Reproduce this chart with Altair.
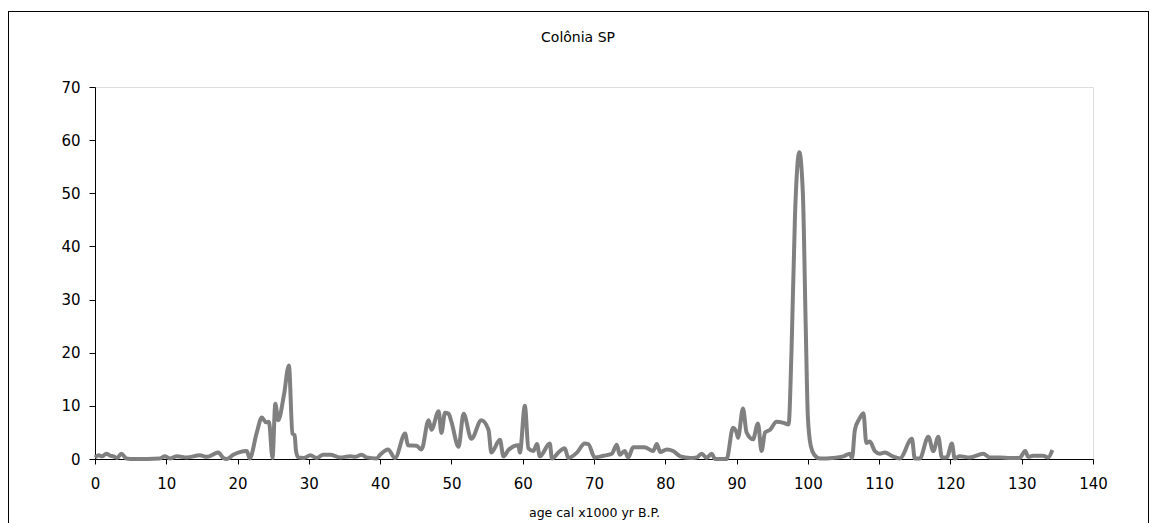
import altair as alt
import pandas as pd

ages = [0, 0.5, 1.0, 1.6, 2.2, 2.6, 3.1, 3.7, 4.4, 5.5, 9.1, 9.8, 10.5, 11.5, 12.9, 14.7, 15.7,
        17.3, 18.0, 18.5, 19.4, 20.3, 21.3, 21.7, 22.7, 23.4, 24.0, 24.4, 24.9, 25.3, 25.7, 26.5,
        27.2, 27.7, 28.0, 28.2, 28.5, 29.3, 30.2, 31.1, 32.0, 33.0, 34.4, 35.8, 36.5, 37.4, 38.1,
        39.5, 40.0, 41.1, 42.1, 43.5, 43.9, 45.1, 45.8, 46.8, 47.2, 48.2, 48.6, 49.1, 49.6, 50.0,
        51.0, 51.7, 52.8, 54.2, 55.2, 55.6, 56.8, 57.3, 58.0, 59.4, 59.6, 60.3, 60.8, 61.5, 62.0,
        62.4, 63.8, 64.1, 65.2, 65.9, 66.4, 67.6, 68.7, 69.2, 70.1, 71.3, 72.5, 73.2, 73.6, 74.3,
        74.8, 75.5, 77.1, 78.3, 78.8, 79.3, 80.2, 81.1, 82.1, 83.5, 84.4, 85.1, 85.8, 86.5, 87.0,
        88.6, 89.5, 90.0, 90.2, 90.9, 91.4, 92.3, 93.0, 93.5, 94.0, 94.7, 95.6, 96.6, 97.3, 97.7,
        98.2, 98.8, 99.3, 99.7, 100.0, 100.4, 100.9, 101.7, 103.5, 105.0, 105.9, 106.2, 106.6,
        107.2, 107.8, 108.2, 108.7, 109.4, 110.1, 110.8, 111.9, 112.9, 114.6, 115.0, 115.7, 116.9,
        117.6, 118.3, 118.8, 119.5, 120.2, 120.6, 121.3, 122.7, 124.6, 125.5, 127.0, 128.3, 129.7,
        130.5, 130.9, 131.6, 133.0, 133.7, 134.3]
values = [0.3, 0.7, 0.5, 1.0, 0.6, 0.5, 0.2, 1.0, 0.1, 0, 0.1, 0.5, 0.1, 0.5, 0.3, 0.7, 0.4,
          1.2, 0.2, 0, 0.8, 1.3, 1.5, 0.1, 5.0, 7.8, 6.9, 7.0, 0.2, 10.4, 7.3, 12.0,
          17.6, 4.8, 4.5, 1.5, 0.3, 0.2, 0.7, 0.2, 0.8, 0.8, 0.3, 0.5, 0.4, 0.8, 0.3,
          0.1, 0.8, 1.8, 0.2, 4.8, 2.6, 2.5, 1.8, 7.3, 5.5, 9.0, 4.9, 8.7, 8.5, 7.0,
          2.3, 8.5, 3.8, 7.3, 5.5, 1.2, 3.6, 0.5, 1.7, 2.6, 1.2, 10.0, 2.0, 1.5, 2.8,
          0.5, 2.9, 0.1, 1.5, 2.0, 0.2, 1.2, 2.9, 2.8, 0.3, 0.6, 1.0, 2.7, 0.8, 1.5,
          0.3, 2.2, 2.2, 1.5, 2.8, 1.3, 1.8, 1.5, 0.5, 0.2, 0.3, 1.0, 0.2, 1.0, 0,
          0, 5.9, 5.0, 4.0, 9.5, 5.0, 3.7, 6.7, 1.5, 5.0, 5.5, 7.0, 6.8, 6.5, 20.0,
          46.0, 57.7, 50.0, 25.0, 8.0, 2.5, 0.8, 0.1, 0.2, 0.5, 1.0, 0.2, 5.5,
          7.5, 8.6, 3.0, 3.3, 1.5, 1.0, 1.2, 0.5, 0.1, 3.8, 0.1, 0.1, 4.2,
          1.5, 4.2, 0.3, 0.3, 2.9, 0.1, 0.5, 0.3, 1.0, 0.3, 0.3, 0.2, 0.2,
          1.5, 0.4, 0.6, 0.6, 0.3, 1.7]

x_ticks = [0, 10, 20, 30, 40, 50, 60, 70, 80, 90, 100, 110, 120, 130, 140]
y_ticks = [0, 10, 20, 30, 40, 50, 60, 70]
title_text = ["Colônia SP"]

df = pd.DataFrame({"age": ages, "value": values})

FONT = "DejaVu Sans"

line = alt.Chart(df).mark_line(color="#808080", strokeWidth=4, interpolate="monotone").encode(
    x=alt.X("age:Q", scale=alt.Scale(domain=[0, 140], nice=False),
            axis=alt.Axis(values=x_ticks, title="age cal x1000 yr B.P.", grid=False,
                          domainColor="black", tickColor="black", tickSize=5,
                          labelFlush=False, labelOverlap=False,
                          labelPadding=12, labelFontSize=15, labelColor="black",
                          labelFont=FONT, titleFont=FONT, titleFontSize=12.5,
                          titleFontWeight="normal", titleColor="black", titlePadding=15)),
    y=alt.Y("value:Q", scale=alt.Scale(domain=[0, 70], nice=False),
            axis=alt.Axis(values=y_ticks, title=None, grid=False,
                          labelFlush=False, labelOverlap=False,
                          domainColor="black", tickColor="black", tickSize=6,
                          labelPadding=9, labelFontSize=15, labelColor="black",
                          labelFont=FONT)),
)

frame = alt.Chart(df).mark_rect(fill=None, stroke="black", strokeWidth=1, clip=False).encode(
    x=alt.value(-86.5), x2=alt.value(1053.5), y=alt.value(-75.5), y2=alt.value(460)
)

title = alt.Chart(pd.DataFrame({"t": title_text})).mark_text(
    font=FONT, fontSize=14, color="black", align="center", baseline="middle"
).encode(text="t:N", x=alt.value(483), y=alt.value(-49))

chart = alt.layer(frame, line, title).properties(
    width=998,
    height=372,
    padding={"left": 87, "top": 79, "right": 56, "bottom": 64},
    autosize=alt.AutoSizeParams(type="none"),
).configure_view(stroke="#808080", strokeWidth=1).configure(background="white")

chart.save("out.html", embed_options={"renderer": "svg", "actions": False})
